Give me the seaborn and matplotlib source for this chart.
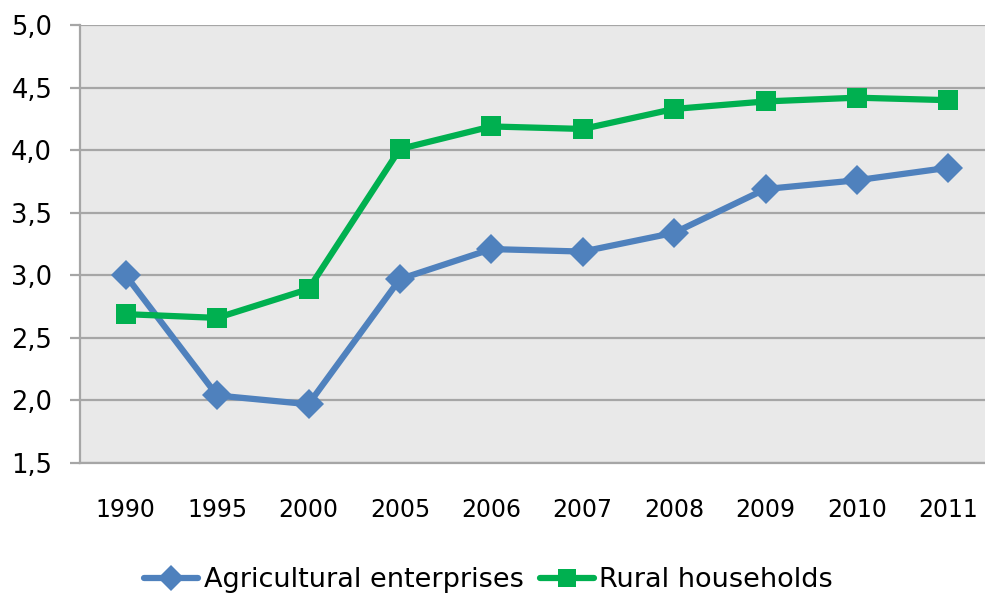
import matplotlib
matplotlib.use("Agg")
import matplotlib.pyplot as plt
import matplotlib.ticker as ticker
import numpy as np
import pandas as pd
import seaborn as sns

years = ["1990", "1995", "2000", "2005", "2006", "2007", "2008", "2009", "2010", "2011"]
agricultural = [3.00, 2.04, 1.97, 2.97, 3.21, 3.19, 3.34, 3.69, 3.76, 3.86]
rural = [2.69, 2.66, 2.89, 4.01, 4.19, 4.17, 4.33, 4.39, 4.42, 4.40]
series_names = ["Agricultural enterprises", "Rural households"]

df = pd.DataFrame({
    "year": years * 2,
    "value": agricultural + rural,
    "series": [series_names[0]] * len(years) + [series_names[1]] * len(years),
})

sns.set_theme(style="white")
plt.rcParams['font.family'] = ['DejaVu Sans']

grid_col = "#A6A6A6"
fig = plt.figure(figsize=(9.85, 5.95), dpi=100)
ax = fig.add_axes([0.0812, 0.2218, 0.928, 0.736])
ax.set_facecolor("#E9E9E9")

sns.lineplot(data=df, x="year", y="value", hue="series", style="series",
             palette={series_names[0]: "#4F81BD", series_names[1]: "#00B050"},
             markers={series_names[0]: "D", series_names[1]: "s"}, dashes=False,
             linewidth=4.5, markersize=15, markeredgewidth=0, legend=False,
             sort=False, ax=ax, zorder=3)

ax.set_ylim(1.5, 5.0)
ax.set_xlim(-0.5, len(years) - 0.5)
ax.yaxis.set_major_locator(ticker.MultipleLocator(0.5))
ax.yaxis.set_major_formatter(ticker.FuncFormatter(lambda v, p: f"{v:.1f}".replace(".", ",")))
ax.yaxis.grid(True, color=grid_col, linewidth=1.6)
ax.set_axisbelow(True)

ax.xaxis.set_minor_locator(ticker.FixedLocator(np.arange(-0.5, len(years), 1.0)))
ax.tick_params(axis="x", which="major", length=0, pad=25, labelsize=17, labelcolor="black")
ax.tick_params(axis="x", which="minor", length=7, width=1.6, color=grid_col, direction="out")
ax.tick_params(axis="y", which="major", length=7, width=1.6, color=grid_col, direction="out",
               pad=13, labelsize=18.5, labelcolor="black", left=True)
ax.set_xlabel("")
ax.set_ylabel("")

for side in ["top", "right"]:
    ax.spines[side].set_visible(False)
for side in ["left", "bottom"]:
    ax.spines[side].set_color(grid_col)
    ax.spines[side].set_linewidth(1.6)

fig.legend(ax.lines[:2], series_names, loc="center", ncol=2, bbox_to_anchor=(0.496, 0.025),
           frameon=False, fontsize=19.5, labelcolor="black", handlelength=2.0,
           handletextpad=0.2, columnspacing=0.6, markerscale=0.85)

fig.savefig("out.png", dpi=100)
